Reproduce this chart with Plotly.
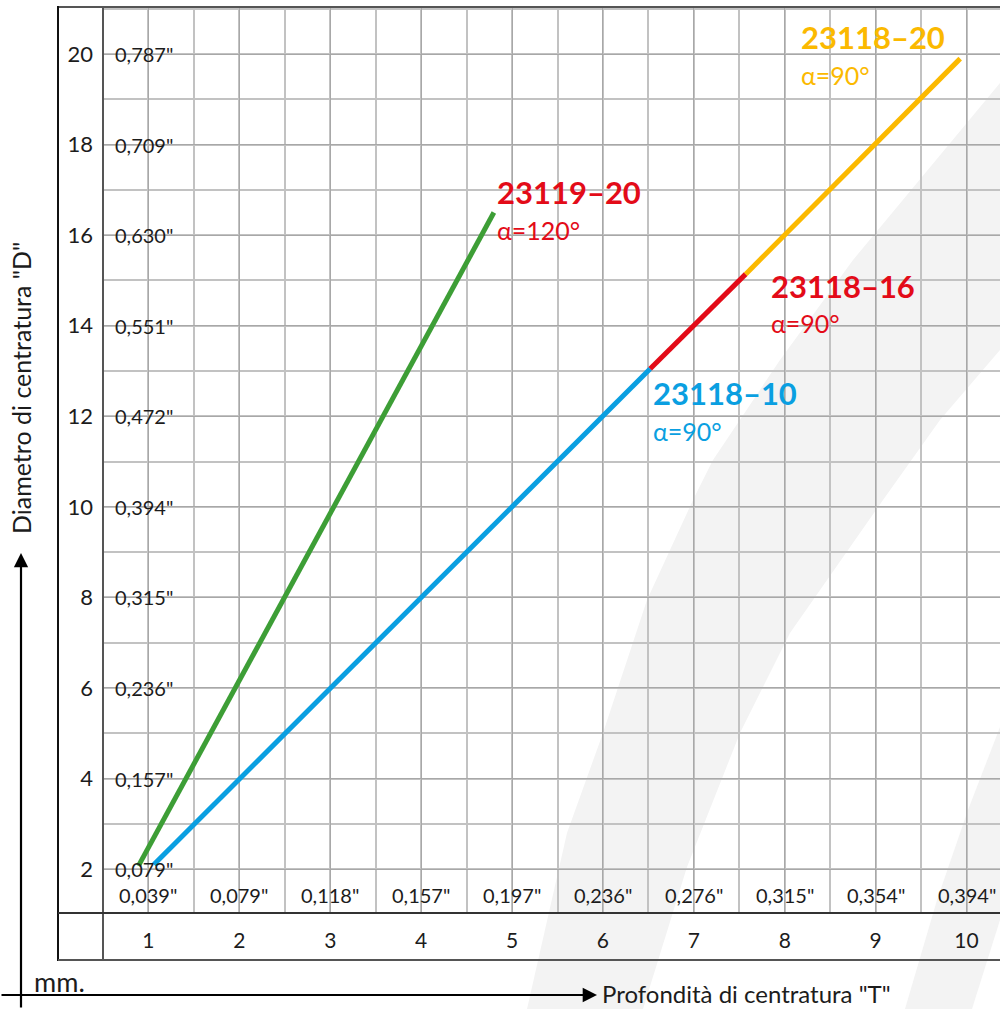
import plotly.graph_objects as go

# ---------------- data ----------------
mm_T = [1, 2, 3, 4, 5, 6, 7, 8, 9, 10]
inch_T = ['0,039"', '0,079"', '0,118"', '0,157"', '0,197"', '0,236"', '0,276"', '0,315"', '0,354"', '0,394"']
mm_D = [2, 4, 6, 8, 10, 12, 14, 16, 18, 20]
inch_D = ['0,079"', '0,157"', '0,236"', '0,315"', '0,394"', '0,472"', '0,551"', '0,630"', '0,709"', '0,787"']

green_T = [0.89, 4.80]
green_D = [2.07, 16.50]
blue_T = [1.06, 6.52]
blue_D = [2.10, 13.05]
red_T = [6.52, 7.57]
red_D = [13.05, 15.14]
yellow_T = [7.57, 9.93]
yellow_D = [15.14, 19.90]

GREEN = '#3d9e36'
BLUE = '#0a9fe1'
RED = '#e30b18'
YELLOW = '#fbb900'
FONT = 'Lato'
TXT = '#1c1c1c'

W, H = 1000, 1009
L, R, T, B = 103, 0, 7, 96
PW, PH = W - L - R, H - T - B


def px(x, y):
    return (x - L) / PW, (H - B - y) / PH


fig = go.Figure()

for xs, ys, col in [(green_T, green_D, GREEN), (blue_T, blue_D, BLUE),
                    (red_T, red_D, RED), (yellow_T, yellow_D, YELLOW)]:
    fig.add_trace(go.Scatter(x=xs, y=ys, mode='lines',
                             line=dict(color=col, width=5), showlegend=False,
                             hoverinfo='skip'))

shapes = []
# watermark bands
band1 = [(527, 1009), (567, 833), (603, 733), (647, 600), (693, 500), (713, 460),
         (780, 360), (853, 260), (1000, 83), (1000, 350), (940, 420), (883, 500),
         (790, 633), (740, 733), (687, 867), (643, 1009)]
band2 = [(905, 1009), (937, 900), (968, 810), (1000, 727), (1000, 920), (972, 1009)]
for band in [band1, band2]:
    pts = [px(a, b) for a, b in band]
    path = 'M ' + ' L '.join(f'{a:.5f},{b:.5f}' for a, b in pts) + ' Z'
    shapes.append(dict(type='path', path=path, xref='paper', yref='paper',
                       fillcolor='#f3f3f3', line=dict(width=0), layer='below'))


def seg(x0, y0, x1, y1, color, width):
    a0, b0 = px(x0, y0)
    a1, b1 = px(x1, y1)
    shapes.append(dict(type='line', xref='paper', yref='paper', x0=a0, y0=b0,
                       x1=a1, y1=b1, line=dict(color=color, width=width), layer='above'))


seg(58, 7, 1000, 7, '#555555', 2)
seg(58, 6, 58, 961, '#111111', 2)
seg(103, 7, 103, 960, '#555555', 2)
seg(58, 913, 1000, 913, '#333333', 2)
seg(58, 960, 1000, 960, '#555555', 2)

annotations = []
for d, lab in zip(mm_D, inch_D):
    annotations.append(dict(x=0.605, y=d, xref='x', yref='y', text=lab, showarrow=False,
                            xanchor='left', yanchor='middle',
                            font=dict(family=FONT, size=20, color=TXT)))
for t, lab in zip(mm_T, inch_T):
    annotations.append(dict(x=t, y=1.43, xref='x', yref='y', text=lab, showarrow=False,
                            xanchor='center', yanchor='middle',
                            font=dict(family=FONT, size=20, color=TXT)))

labels = [
    ('23119–20', 4.81, 16.95, RED, True), ('α=120°', 4.81, 16.12, RED, False),
    ('23118–16', 7.83, 14.88, RED, True), ('α=90°', 7.83, 14.06, RED, False),
    ('23118–10', 6.53, 12.51, BLUE, True), ('α=90°', 6.53, 11.68, BLUE, False),
    ('23118–20', 8.16, 20.38, YELLOW, True), ('α=90°', 8.16, 19.54, YELLOW, False),
]
for text, x, y, col, bold in labels:
    annotations.append(dict(x=x, y=y, xref='x', yref='y',
                            text=f'<b>{text}</b>' if bold else text,
                            showarrow=False, xanchor='left', yanchor='middle',
                            font=dict(family=FONT, size=31 if bold else 25, color=col)))

# axis captions and arrows
ax, ay = px(32, 981)
annotations.append(dict(x=ax, y=ay, xref='paper', yref='paper', text='mm.', showarrow=False,
                        xanchor='left', yanchor='middle', font=dict(family=FONT, size=27, color=TXT)))
ax, ay = px(600, 993)
annotations.append(dict(x=ax, y=ay, xref='paper', yref='paper', text='Profondità di centratura "T"',
                        showarrow=False, xanchor='left', yanchor='middle',
                        font=dict(family=FONT, size=24, color=TXT)))
ax, ay = px(21, 388)
annotations.append(dict(x=ax, y=ay, xref='paper', yref='paper', text='Diametro di centratura "D"',
                        showarrow=False, xanchor='center', yanchor='middle', textangle=-90,
                        font=dict(family=FONT, size=25, color=TXT)))
hx, hy = px(597, 995)
annotations.append(dict(x=hx, y=hy, xref='paper', yref='paper', text='', showarrow=True,
                        ax=-600, ay=0, arrowhead=2, arrowsize=1.3, arrowwidth=2.2,
                        arrowcolor='#000000'))
hx, hy = px(21, 553)
annotations.append(dict(x=hx, y=hy, xref='paper', yref='paper', text='', showarrow=True,
                        ax=0, ay=460, arrowhead=2, arrowsize=1.3, arrowwidth=2.2,
                        arrowcolor='#000000'))

fig.update_layout(
    width=W, height=H, margin=dict(l=L, r=R, t=T, b=B),
    paper_bgcolor='white', plot_bgcolor='rgba(0,0,0,0)',
    shapes=shapes, annotations=annotations, showlegend=False,
    xaxis=dict(range=[0.5, 0.5 + PW / 90.9], tickmode='array', tickvals=mm_T,
               ticktext=[str(v) for v in mm_T], showgrid=True, gridcolor='#a8a8a8',
               gridwidth=1, zeroline=False, showline=False, ticks='',
               ticklabelstandoff=13, tickfont=dict(family=FONT, size=21, color=TXT),
               minor=dict(tickmode='linear', tick0=0.5, dtick=0.5, showgrid=True,
                          gridcolor='#c2c2c2', gridwidth=1.5),
               fixedrange=True),
    yaxis=dict(range=[1.03, 21.04], tickmode='array', tickvals=mm_D,
               ticktext=[str(v) for v in mm_D], showgrid=True, gridcolor='#a8a8a8',
               gridwidth=1, zeroline=False, showline=False, ticks='',
               ticklabelstandoff=9, tickfont=dict(family=FONT, size=22, color=TXT),
               minor=dict(tickmode='linear', tick0=1, dtick=1, showgrid=True,
                          gridcolor='#c2c2c2', gridwidth=1.5),
               fixedrange=True),
)

fig.write_html('out.html', config={'displayModeBar': False},
               post_script="document.body.style.margin='0';document.body.style.overflow='hidden';")
